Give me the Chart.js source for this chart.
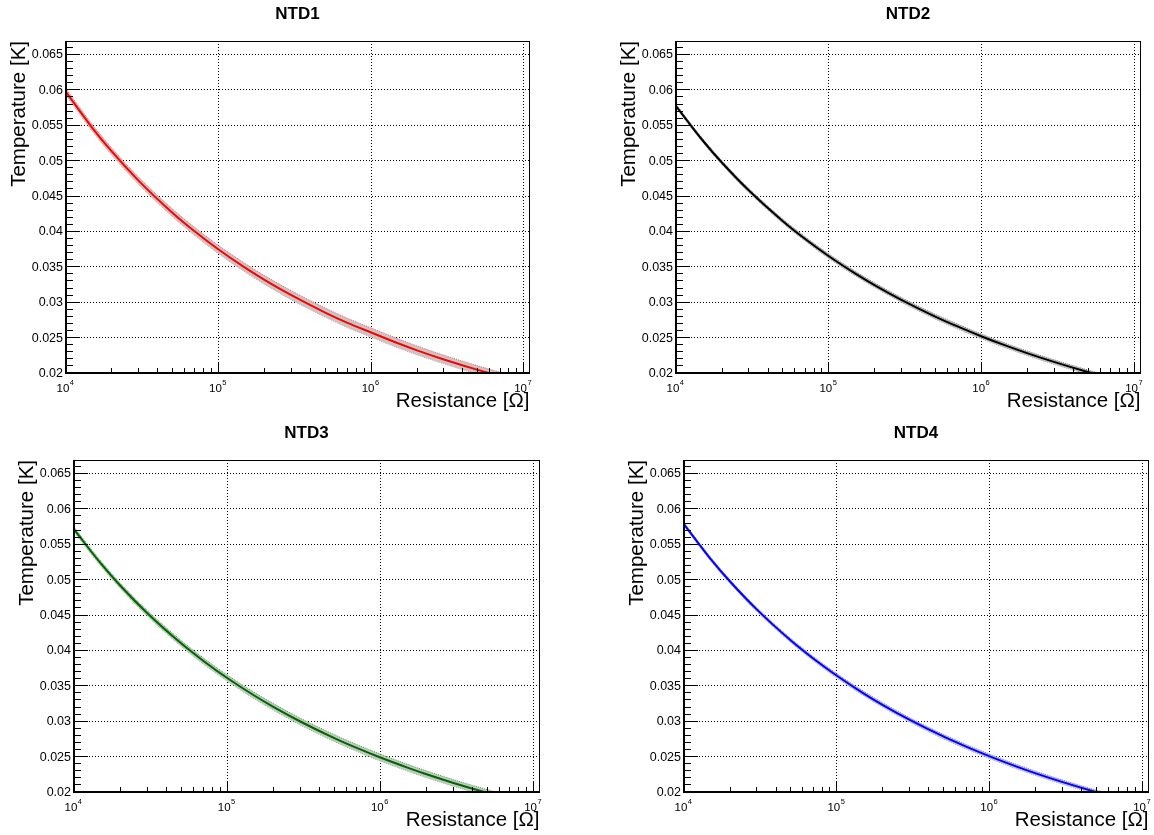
<!DOCTYPE html>
<html><head><meta charset="utf-8">
<script src="https://cdn.jsdelivr.net/npm/chart.js@4.4.1/dist/chart.umd.min.js"></script>
<style>
html,body{margin:0;padding:0;background:#fff;}
#wrap{position:relative;width:1154px;height:835px;overflow:hidden;background:#fff;}
canvas{position:absolute;}
</style></head><body><div id="wrap">
<canvas id="c1" style="left:0px;top:0px;width:577px;height:417px" width="577" height="417"></canvas>
<canvas id="c2" style="left:577px;top:0px;width:577px;height:417px" width="577" height="417"></canvas>
<canvas id="c3" style="left:0px;top:417px;width:577px;height:418px" width="577" height="418"></canvas>
<canvas id="c4" style="left:577px;top:417px;width:577px;height:418px" width="577" height="418"></canvas>
</div>
<script>
// ---- data ----
const resistance = [1e4, 1.5e4, 2e4, 3e4, 5e4, 7e4, 1e5, 1.5e5, 2e5, 3e5, 5e5, 7e5, 1e6, 1.5e6, 2e6, 3e6, 5e6, 8e6];
const ntd1Temp = [0.05969, 0.05453, 0.05126, 0.04714, 0.04261, 0.03998, 0.03744, 0.03484, 0.03316, 0.03099, 0.02854, 0.02708, 0.02572, 0.02420, 0.02320, 0.02191, 0.02044, 0.01922];
const ntd1Err  = [0.00045, 0.00047, 0.00049, 0.00051, 0.00054, 0.00056, 0.00058, 0.00060, 0.00061, 0.00063, 0.00064, 0.00065, 0.00065, 0.00064, 0.00062, 0.00060, 0.00058, 0.00055];
const ntd2Temp = [0.05770, 0.05281, 0.04970, 0.04577, 0.04145, 0.03893, 0.03650, 0.03401, 0.03239, 0.03030, 0.02794, 0.02654, 0.02516, 0.02372, 0.02277, 0.02153, 0.02010, 0.01891];
const ntd2Err  = [0.00025, 0.00026, 0.00027, 0.00028, 0.00029, 0.00030, 0.00031, 0.00032, 0.00032, 0.00033, 0.00033, 0.00033, 0.00033, 0.00032, 0.00032, 0.00031, 0.00030, 0.00029];
const ntd3Temp = [0.05709, 0.05225, 0.04917, 0.04528, 0.04100, 0.03851, 0.03610, 0.03363, 0.03203, 0.02996, 0.02762, 0.02623, 0.02487, 0.02345, 0.02251, 0.02128, 0.01987, 0.01869];
const ntd3Err  = [0.00035, 0.00036, 0.00037, 0.00039, 0.00041, 0.00042, 0.00043, 0.00045, 0.00046, 0.00047, 0.00048, 0.00048, 0.00048, 0.00047, 0.00047, 0.00046, 0.00045, 0.00044];
const ntd4Temp = [0.05782, 0.05286, 0.04973, 0.04576, 0.04140, 0.03886, 0.03642, 0.03391, 0.03228, 0.03018, 0.02781, 0.02641, 0.02503, 0.02358, 0.02263, 0.02139, 0.01997, 0.01878];
const ntd4Err  = [0.00024, 0.00025, 0.00026, 0.00027, 0.00028, 0.00029, 0.00030, 0.00031, 0.00031, 0.00031, 0.00031, 0.00031, 0.00031, 0.00030, 0.00030, 0.00029, 0.00028, 0.00028];

const yTickValues = [0.02, 0.025, 0.03, 0.035, 0.04, 0.045, 0.05, 0.055, 0.06, 0.065];
const yTickLabels = ['0.02', '0.025', '0.03', '0.035', '0.04', '0.045', '0.05', '0.055', '0.06', '0.065'];
const xTickExponents = [4, 5, 6, 7];
const panelTitles = ['NTD1', 'NTD2', 'NTD3', 'NTD4'];
const xAxisTitle = 'Resistance [\u03A9]';
const yAxisTitle = 'Temperature [K]';

// ---- styling / layout ----
const FONT = '"Liberation Sans", Arial, Helvetica, sans-serif';
const X_MIN = 1e4, X_MAX = Math.pow(10, 7.035);
const Y_MIN = 0.02, Y_MAX = 0.0669;

const panels = [
  { id: 'c1', title: panelTitles[0], temp: ntd1Temp, err: ntd1Err, line: '#ff0000', edge: 'rgba(255,70,70,0.85)', band: 'rgba(195,195,195,0.95)', pad: { left: 66, top: 41, right: 48, bottom: 44 } },
  { id: 'c2', title: panelTitles[1], temp: ntd2Temp, err: ntd2Err, line: '#000000', edge: 'rgba(110,110,110,0.9)', band: 'rgba(190,190,190,0.95)', pad: { left: 99, top: 41, right: 14, bottom: 44 } },
  { id: 'c3', title: panelTitles[2], temp: ntd3Temp, err: ntd3Err, line: '#006400', edge: 'rgba(40,150,40,0.85)', band: 'rgba(190,198,190,0.95)', pad: { left: 74, top: 43, right: 38, bottom: 43 } },
  { id: 'c4', title: panelTitles[3], temp: ntd4Temp, err: ntd4Err, line: '#0000ff', edge: 'rgba(90,90,255,0.85)', band: 'rgba(195,195,210,0.95)', pad: { left: 107, top: 43, right: 6, bottom: 43 } }
];

const rootFrame = {
  id: 'rootFrame',
  afterDraw(chart, args, o) {
    const { ctx, chartArea: a, scales: { x, y } } = chart;
    const L = a.left, R = a.right, T = a.top, B = a.bottom;
    ctx.save();
    ctx.fillStyle = '#000';
    // frame
    ctx.fillRect(L, T, R - L + 1, 1);
    ctx.fillRect(R, T, 1, B - T);
    ctx.fillRect(L - 1, T, 2, B - T + 1);
    ctx.fillRect(L - 1, B - 1, R - L + 2, 2);
    // y ticks (inside)
    for (let k = 20; k <= 66; k++) {
      const v = k / 1000;
      if (v > y.max) break;
      const py = Math.floor(y.getPixelForValue(v));
      const len = (k % 5 === 0) ? 14 : 7;
      ctx.fillRect(L, py, len, 1);
    }
    // x ticks (inside)
    for (let e = 4; e <= 7; e++) {
      for (let k = 1; k <= 9; k++) {
        const v = k * Math.pow(10, e);
        if (v > x.max) break;
        const px = Math.floor(x.getPixelForValue(v));
        const len = (k === 1) ? 10 : 5;
        ctx.fillRect(px, B - len, 1, len);
      }
    }
    // y tick labels
    ctx.font = '12.5px ' + FONT;
    ctx.textAlign = 'right';
    ctx.textBaseline = 'middle';
    yTickValues.forEach((v, i) => {
      ctx.fillText(yTickLabels[i], L - 3, y.getPixelForValue(v) + 0.5);
    });
    // x tick labels 10^n
    ctx.textBaseline = 'alphabetic';
    ctx.textAlign = 'left';
    xTickExponents.forEach(e => {
      const px = x.getPixelForValue(Math.pow(10, e));
      ctx.font = '11.5px ' + FONT;
      const w1 = ctx.measureText('10').width;
      ctx.font = '7.5px ' + FONT;
      const w2 = ctx.measureText(String(e)).width;
      const start = px - (w1 + w2) / 2 - 1;
      ctx.font = '11.5px ' + FONT;
      ctx.fillText('10', start, B + 18.7);
      ctx.font = '7.5px ' + FONT;
      ctx.fillText(String(e), start + w1 + 0.5, B + 11.5);
    });
    // x axis title
    ctx.font = '20.5px ' + FONT;
    ctx.textAlign = 'right';
    ctx.fillText(xAxisTitle, R + 0.5, B + 33.7);
    // y axis title
    ctx.save();
    ctx.translate(L - 41.3, T);
    ctx.rotate(-Math.PI / 2);
    ctx.textAlign = 'right';
    ctx.fillText(yAxisTitle, 0, 0);
    ctx.restore();
    // panel title
    ctx.font = 'bold 17px ' + FONT;
    ctx.textAlign = 'center';
    ctx.fillText(o.title, (L + R) / 2, T - 22);
    ctx.restore();
  }
};

panels.forEach(p => {
  const main = resistance.map((r, i) => ({ x: r, y: p.temp[i] }));
  const upper = resistance.map((r, i) => ({ x: r, y: p.temp[i] + p.err[i] }));
  const lower = resistance.map((r, i) => ({ x: r, y: p.temp[i] - p.err[i] }));
  new Chart(document.getElementById(p.id), {
    type: 'line',
    data: {
      datasets: [
        { data: main, borderColor: p.line, borderWidth: 2, pointRadius: 0, fill: false, cubicInterpolationMode: 'monotone', clip: 0 },
        { data: upper, borderColor: p.edge, borderWidth: 1, borderDash: [1, 1], pointRadius: 0, fill: '+1', backgroundColor: p.band, cubicInterpolationMode: 'monotone', clip: 0 },
        { data: lower, borderColor: p.edge, borderWidth: 1, borderDash: [1, 1], pointRadius: 0, fill: false, cubicInterpolationMode: 'monotone', clip: 0 }
      ]
    },
    options: {
      responsive: false,
      maintainAspectRatio: false,
      devicePixelRatio: 1,
      animation: false,
      events: [],
      layout: { padding: p.pad, autoPadding: false },
      plugins: { legend: { display: false }, tooltip: { enabled: false }, title: { display: false }, rootFrame: { title: p.title } },
      scales: {
        x: {
          type: 'logarithmic', min: X_MIN, max: X_MAX,
          afterBuildTicks: s => { s.ticks = xTickExponents.map(e => ({ value: Math.pow(10, e) })); },
          ticks: { display: false },
          grid: { display: true, color: '#000', lineWidth: 1, drawTicks: false },
          border: { display: false, dash: [1, 2] },
          afterFit: s => { s.height = 0; }
        },
        y: {
          type: 'linear', min: Y_MIN, max: Y_MAX,
          afterBuildTicks: s => { s.ticks = yTickValues.map(v => ({ value: v })); },
          ticks: { display: false },
          grid: { display: true, color: '#000', lineWidth: 1, drawTicks: false },
          border: { display: false, dash: [1, 2] },
          afterFit: s => { s.width = 0; }
        }
      }
    },
    plugins: [rootFrame]
  });
});
</script>
</body></html>
